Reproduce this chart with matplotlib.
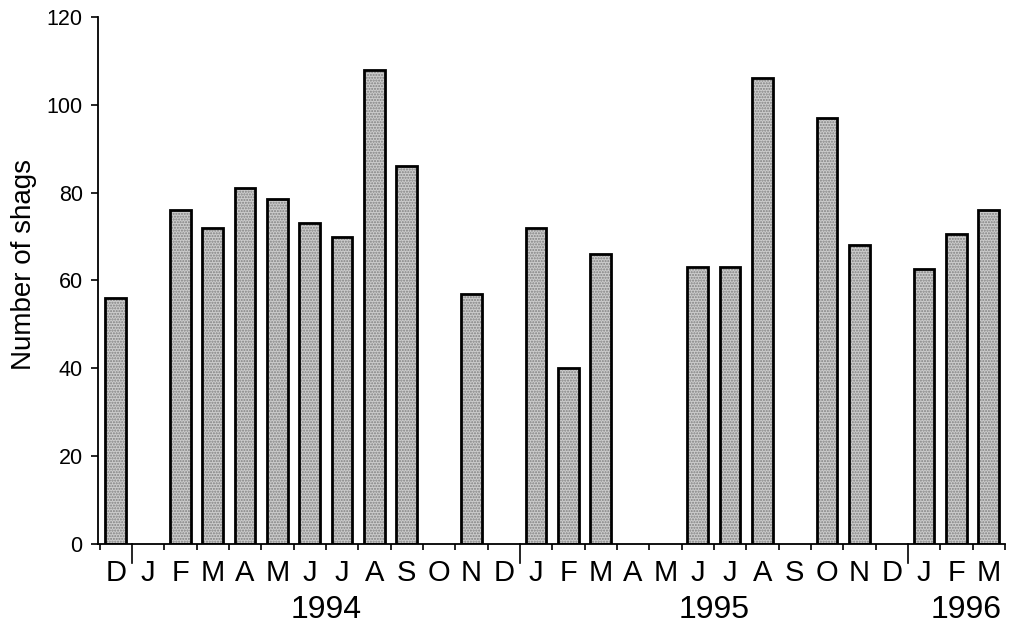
import numpy as np
import matplotlib.pyplot as plt
import matplotlib.transforms as mtransforms

plt.rcParams["font.family"] = ["Liberation Sans", "DejaVu Sans"]

# monthly counts, Dec 1993 - Mar 1996 (None = no count)
months = ["D", "J", "F", "M", "A", "M", "J", "J", "A", "S", "O", "N",
          "D", "J", "F", "M", "A", "M", "J", "J", "A", "S", "O", "N",
          "D", "J", "F", "M"]
shags = [56, None, 76, 72, 81, 78.5, 73, 70, 108, 86, None, 57,
         None, 72, 40, 66, None, None, 63, 63, 106, None, 97, 68,
         None, 62.5, 70.5, 76]
years = ["1994", "1995", "1996"]
year_pos = [6.5, 18.5, 26.3]
year_breaks = [0.5, 12.5, 24.5]

x = np.arange(len(months))
vals = np.array([np.nan if v is None else v for v in shags])
mask = ~np.isnan(vals)

fig = plt.figure(figsize=(10.1, 6.26), dpi=100)
ax = fig.add_axes([0.097, 0.131, 0.898, 0.842])

# stippled fill, then black outline
ax.bar(x[mask], vals[mask], width=0.64, color="#cccccc", edgecolor="#808080",
       hatch="......", linewidth=0)
ax.bar(x[mask], vals[mask], width=0.64, fill=False, edgecolor="black",
       linewidth=2.0)

ax.set_xlim(-0.55, 27.35)
ax.set_ylim(0, 120)
ax.set_yticks(np.arange(0, 121, 20))
ax.tick_params(axis="y", labelsize=15.5, length=5, width=1.2, pad=6,
               direction="out")

ax.set_xticks(x)
ax.set_xticklabels(months, fontsize=21)
ax.tick_params(axis="x", length=0, pad=11)
minor = [b for b in np.arange(-0.5, 27.6, 1.0) if b not in year_breaks]
ax.set_xticks(minor, minor=True)
ax.tick_params(axis="x", which="minor", length=4, width=1.2, direction="out")

trans = mtransforms.blended_transform_factory(ax.transData, ax.transAxes)
for b in year_breaks:
    ax.plot([b, b], [0, -0.036], color="black", linewidth=1.2,
            transform=trans, clip_on=False)
for yr, p in zip(years, year_pos):
    ax.text(p, -0.125, yr, fontsize=23, ha="center", va="center",
            transform=trans)

ax.set_ylabel("Number of shags", fontsize=20)
ax.yaxis.set_label_coords(-0.067, 0.531)

for s in ["top", "right"]:
    ax.spines[s].set_visible(False)
for s in ["left", "bottom"]:
    ax.spines[s].set_linewidth(1.3)

fig.savefig("out.png", dpi=100)
